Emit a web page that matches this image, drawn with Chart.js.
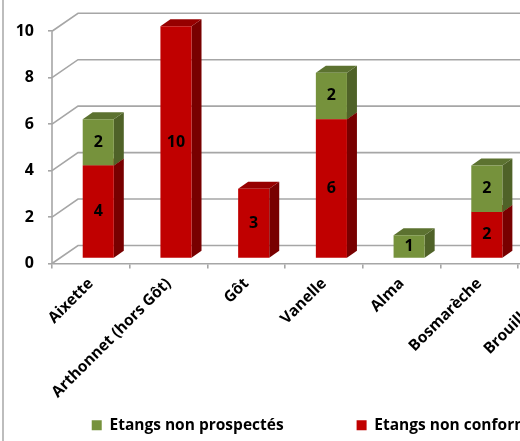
<!DOCTYPE html>
<html>
<head>
<meta charset="utf-8">
<style>
html, body { margin: 0; padding: 0; background: #fff; overflow: hidden; width: 520px; height: 441px; }
#wrap { position: absolute; left: 0; top: 0; width: 620px; height: 441px; }
#edge { position: absolute; left: 2px; top: 0; width: 2px; height: 441px; background: #bdbdbd; }
</style>
</head>
<body>
<div id="wrap"><canvas id="myChart" width="620" height="441"></canvas></div>
<div id="edge"></div>
<script src="https://cdn.jsdelivr.net/npm/chart.js@4"></script>
<script>
const categories = ["Aixette", "Arthonnet (hors Gôt)", "Gôt", "Vanelle", "Alma", "Bosmarèche", "Brouillet/Lac"];
const nonConformes = [4, 10, 3, 6, null, 2, null];
const nonProspectes = [2, null, null, 2, 1, 2, null];
const yTicks = [0, 2, 4, 6, 8, 10];

const RED = "#c00000", RED_TOP = "#960000", RED_SIDE = "#780000";
const GREEN = "#76923c", GREEN_TOP = "#5c7230", GREEN_SIDE = "#4f6228";
const GRID = "#a6a6a6";
const FONT = "'Open Sans', sans-serif";

const barShift = { x: 7.4, y: -5 };
const barDepth = { x: 10, y: -7 };
const wallDepth = { x: 26, y: -18 };
const legendShift = { x: 71, y: 0 };

const shades = {
    [RED]: { top: RED_TOP, side: RED_SIDE },
    [GREEN]: { top: GREEN_TOP, side: GREEN_SIDE },
};

function face(ctx, pts, color) {
    ctx.fillStyle = color;
    ctx.beginPath();
    pts.forEach((p, i) => i ? ctx.lineTo(p[0], p[1]) : ctx.moveTo(p[0], p[1]));
    ctx.closePath();
    ctx.fill();
}

const fake3d = {
    id: "fake3d",
    afterLayout(chart) {
        // long rotated labels are clipped to the scale box otherwise
        chart.scales.x.bottom = chart.height;
        chart.legend.left += legendShift.x;
        chart.legend.right += legendShift.x;
        chart.legend.top += legendShift.y;
    },
    beforeDatasetsDraw(chart) {
        const { ctx, chartArea, scales } = chart;
        const left = chartArea.left;
        ctx.save();
        ctx.strokeStyle = GRID;
        ctx.lineWidth = 1.6;
        yTicks.forEach(v => {
            const y = scales.y.getPixelForValue(v);
            ctx.beginPath();
            ctx.moveTo(left, y);
            ctx.lineTo(left + wallDepth.x, y + wallDepth.y);
            ctx.lineTo(chart.width, y + wallDepth.y);
            ctx.stroke();
        });
        ctx.beginPath();
        ctx.moveTo(left, scales.y.getPixelForValue(yTicks[yTicks.length - 1]));
        ctx.lineTo(left, scales.y.getPixelForValue(0));
        ctx.stroke();
        ctx.restore();

        // depth faces, drawn under the front faces
        ctx.save();
        ctx.translate(barShift.x, barShift.y);
        chart.data.datasets.forEach((ds, i) => {
            const s = shades[ds.backgroundColor];
            chart.getDatasetMeta(i).data.forEach((bar, j) => {
                if (ds.data[j] == null) return;
                const l = bar.x - bar.width / 2, r = bar.x + bar.width / 2;
                const t = bar.y, b = bar.base;
                const dx = barDepth.x, dy = barDepth.y;
                face(ctx, [[r, t], [r + dx, t + dy], [r + dx, b + dy], [r, b]], s.side);
                face(ctx, [[l, t], [l + dx, t + dy], [r + dx, t + dy], [r, t]], s.top);
            });
        });
    },
    afterDatasetsDraw(chart) {
        const { ctx } = chart;
        ctx.fillStyle = "#000";
        ctx.font = "700 16px " + FONT;
        ctx.textAlign = "center";
        ctx.textBaseline = "middle";
        chart.data.datasets.forEach((ds, i) => {
            chart.getDatasetMeta(i).data.forEach((bar, j) => {
                if (ds.data[j] == null) return;
                ctx.fillText(String(ds.data[j]), bar.x, (bar.y + bar.base) / 2);
            });
        });
        ctx.restore();
    }
};

new Chart(document.getElementById("myChart"), {
    type: "bar",
    plugins: [fake3d],
    data: {
        labels: categories,
        datasets: [
            { label: "Etangs non conformes", data: nonConformes, backgroundColor: RED },
            { label: "Etangs non prospectés", data: nonProspectes, backgroundColor: GREEN },
        ]
    },
    options: {
        responsive: false,
        animation: false,
        layout: { padding: { top: 5, left: -100, right: 24, bottom: -2 } },
        datasets: { bar: { categoryPercentage: 0.4, barPercentage: 1 } },
        plugins: {
            tooltip: { enabled: false },
            legend: {
                position: "bottom",
                reverse: true,
                labels: {
                    color: "#000",
                    boxWidth: 10,
                    boxHeight: 10,
                    padding: 73,
                    font: { family: FONT, size: 15.5, weight: "700" }
                }
            }
        },
        scales: {
            x: {
                stacked: true,
                afterFit(scale) { scale.height = 81; },
                border: { color: GRID, width: 1.6 },
                grid: { drawOnChartArea: false, color: GRID, tickLength: 5, lineWidth: 1.6 },
                ticks: {
                    color: "#000",
                    minRotation: 45,
                    maxRotation: 45,
                    autoSkip: false,
                    padding: 6,
                    font: { family: FONT, size: 15.5, weight: "700" }
                }
            },
            y: {
                stacked: true,
                min: 0,
                max: 10.33,
                afterFit(scale) { scale.width = 152; },
                afterBuildTicks(scale) { scale.ticks = yTicks.map(v => ({ value: v })); },
                border: { display: false },
                grid: { drawOnChartArea: false, color: GRID, tickLength: 4, lineWidth: 1.6 },
                ticks: {
                    color: "#000",
                    padding: 14,
                    font: { family: FONT, size: 16, weight: "700" }
                }
            }
        }
    }
});
</script>
</body>
</html>
